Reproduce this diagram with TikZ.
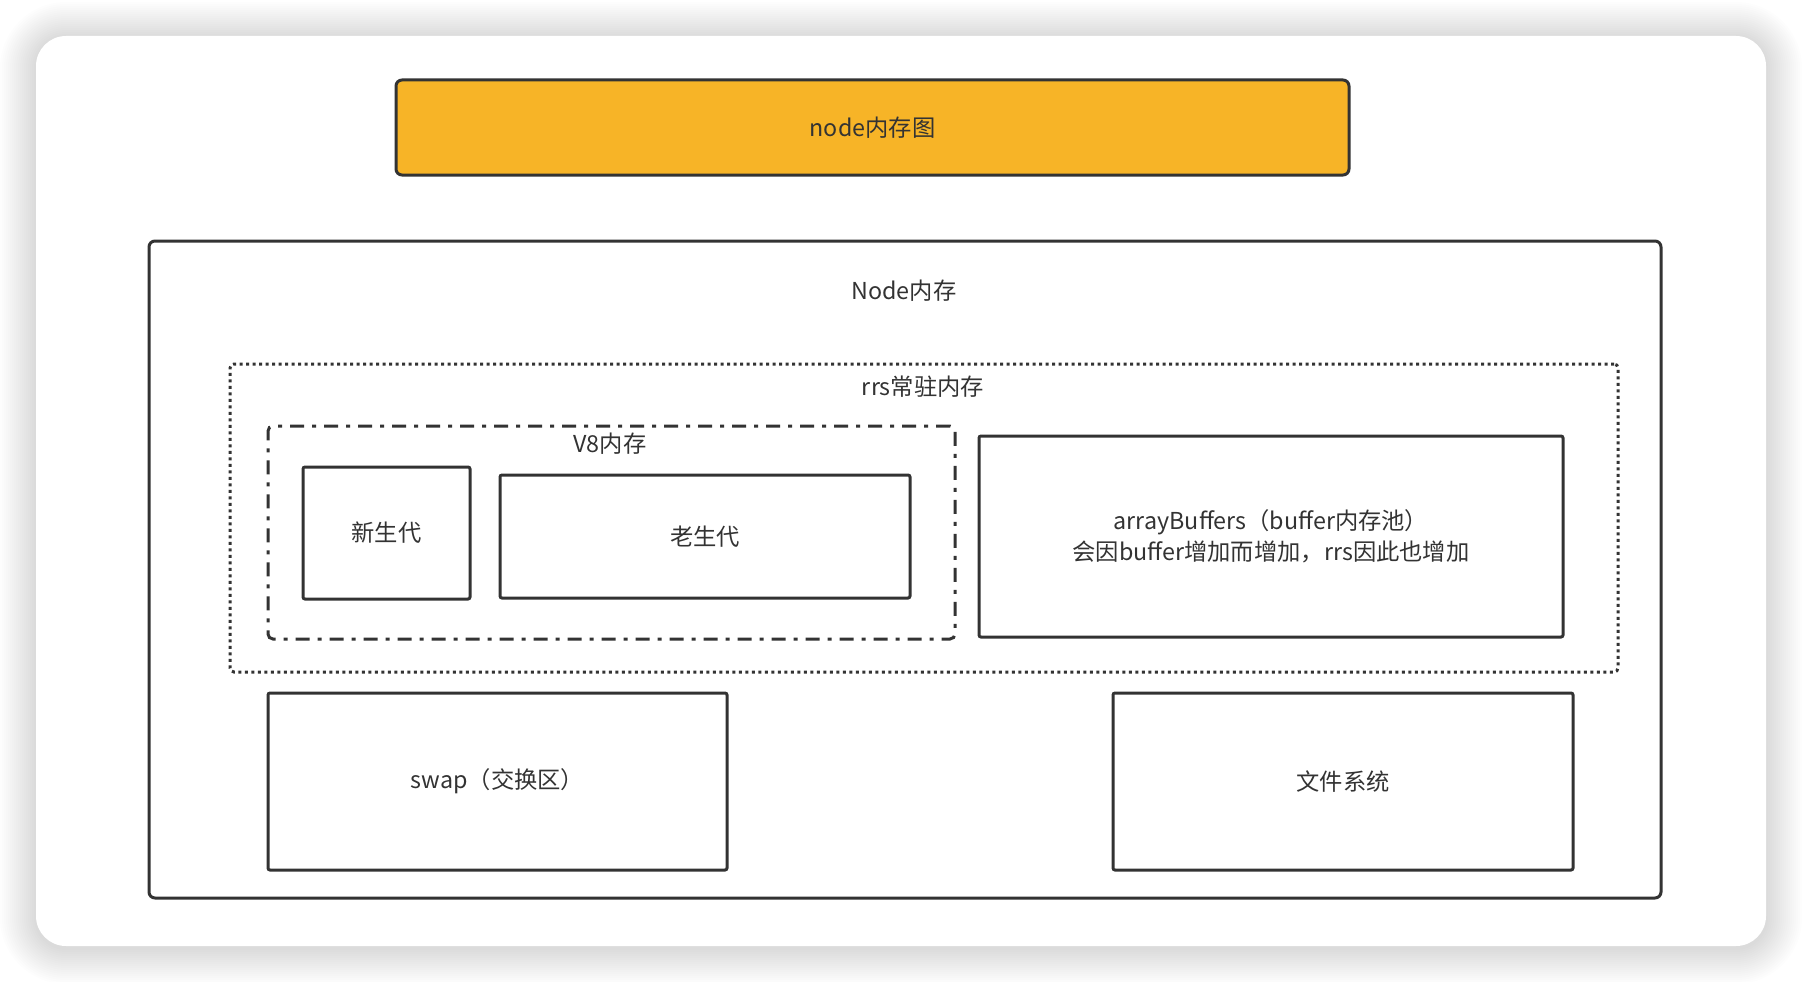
\documentclass[tikz,border=0pt]{standalone}
\usepackage{fontspec}
\setmainfont{Noto Sans CJK SC}
\definecolor{ink}{HTML}{333333}
\definecolor{gold}{HTML}{F7B427}
\tikzset{
  txt/.style={text=ink, font=\fontsize{23.3}{31}\selectfont, inner sep=0pt, align=center},
  solidbox/.style={draw=ink, line width=3pt, rounded corners=2pt, txt},
  dotbox/.style={draw=ink, line width=3pt, rounded corners=4pt, dash pattern=on 3pt off 3.5pt},
  dashdotbox/.style={draw=ink, line width=3pt, rounded corners=5pt, dash pattern=on 14pt off 8pt on 4pt off 8pt},
}
\begin{document}
\begin{tikzpicture}[x=1pt,y=-1pt]
\useasboundingbox (0,0) rectangle (1802,982);
\fill[white] (0,0) rectangle (1802,982);
% card shadow
\foreach \i in {1,...,18}{
  \fill[black, fill opacity=0.009, rounded corners={30pt+2*\i pt}]
    ({36-2*\i},{38-2*\i}) rectangle ({1766+2*\i},{948+2*\i});
}
\fill[white, rounded corners=30pt] (36,36) rectangle (1766,946);
% title
\node[draw=ink, line width=3pt, rounded corners=6pt, fill=gold, minimum width=953pt, minimum height=95pt, txt] (title) at (872.5,127.5) {node内存图};
% Node memory
\node[draw=ink, line width=3pt, rounded corners=6pt, minimum width=1512pt, minimum height=657pt] (nodemem) at (905,569.5) {};
\node[txt] (nodememlbl) at (904,291) {Node内存};
% rrs
\node[dotbox, minimum width=1388pt, minimum height=308pt] (rrs) at (924,518) {};
\node[txt] (rrslbl) at (923,387) {rrs常驻内存};
% V8
\node[dashdotbox, minimum width=687pt, minimum height=213pt] (v8) at (611.5,532.5) {};
\node[txt] (v8lbl) at (610,444) {V8内存};
\node[solidbox, minimum width=167pt, minimum height=132pt] (young) at (386.5,533) {新生代};
\node[solidbox, minimum width=410pt, minimum height=123pt] (old) at (705,536.5) {老生代};
% arrayBuffers
\node[solidbox, minimum width=584pt, minimum height=201pt] (ab) at (1271,536.5) {arrayBuffers（buffer内存池）\\会因buffer增加而增加，rrs因此也增加};
% bottom
\node[solidbox, minimum width=459pt, minimum height=177pt] (swap) at (497.5,781.5) {swap（交换区）};
\node[solidbox, minimum width=460pt, minimum height=177pt] (fs) at (1343,781.5) {文件系统};
\end{tikzpicture}
\end{document}
